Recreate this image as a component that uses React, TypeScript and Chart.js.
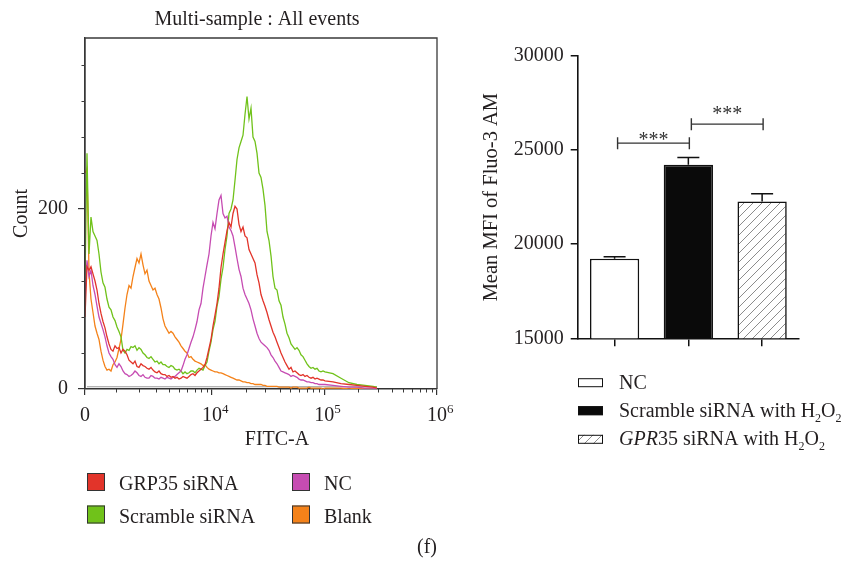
import React, { useEffect, useRef } from 'react';
import { Chart, Scale, registerables } from 'chart.js';

Chart.register(...registerables);

const FONT = "'Liberation Serif', 'Times New Roman', serif";
const INK = '#231f20';

// ---------- Left panel: flow cytometry histogram ----------
const fitcBins = [
  0, 61, 123, 184, 246, 309, 372, 435,
  499, 564, 630, 697, 766, 835, 906, 979, 1053, 1128,
  1206, 1286, 1368, 1452, 1539, 1628, 1720, 1814, 1912, 2013,
  2118, 2225, 2337, 2452, 2572, 2696, 2824, 2958, 3096, 3239,
  3388, 3542, 3702, 3869, 4042, 4221, 4408, 4602, 4804, 5014,
  5232, 5459, 5695, 5941, 6196, 6462, 6739, 7027, 7327, 7639,
  7963, 8301, 8653, 9020, 9401, 9798, 10212, 10642, 11092, 11558,
  12045, 12551, 13079, 13628, 14201, 14796, 15417, 16062, 16735, 17437,
  18167, 18928, 19720, 20550, 21405, 22300, 23232, 24205, 25215, 26272,
  27366, 28513, 29701, 30946, 32235, 33587, 34983, 36450, 37966, 39559,
  41203, 42931, 44715, 46590, 48525, 50563, 52660, 54873, 57150, 59550,
  62019, 64624, 67303, 70134, 73042, 76110, 79267, 82598, 86019, 89642,
  93347, 97277, 101304,
  119298, 140486, 165447, 194832, 229437, 270192, 293210,
];
const grp35Counts = [
  80, 136, 132, 136, 128, 120, 110, 95,
  84, 75, 68, 58, 50, 44, 42, 48, 45, 46,
  40, 44, 42, 38, 32, 30, 28, 31, 25, 24,
  28, 26, 25, 23, 22, 24, 21, 19, 18, 20,
  17, 16, 16, 14, 15, 13, 14, 12, 13, 11,
  12, 14, 13, 12, 14, 16, 17, 15, 18, 20,
  22, 24, 27, 35, 45, 55, 70, 82, 95, 112,
  135, 150, 163, 176, 185, 180, 195, 203, 200, 183,
  175, 180, 170, 168, 155, 150, 145, 140, 127, 118,
  105, 98, 92, 85, 77, 70, 63, 58, 52, 46,
  40, 35, 30, 26, 22, 24, 19, 20, 18, 16,
  15, 16, 14, 15, 13, 12, 13, 11, 12, 11,
  10, 10, 9,
  8, 6, 5, 4, 3, 2, 1,
];
const ncCounts = [
  100, 143, 125, 132, 115, 105, 92, 80,
  73, 66, 58, 48, 40, 36, 33, 27, 24, 28,
  25, 20, 17, 16, 14, 15, 17, 20, 18, 15,
  14, 16, 13, 12, 12, 15, 14, 12, 12, 11,
  13, 12, 11, 13, 12, 11, 13, 14, 16, 18,
  20, 26, 33, 38, 45, 52, 58, 66, 75, 88,
  95, 112, 125, 138, 150, 170, 185, 178, 195, 210,
  215, 195, 190, 192, 180, 176, 170, 158, 145, 133,
  125, 112, 105, 100, 95, 88, 78, 70, 62, 56,
  52, 50, 48, 46, 43, 38, 35, 31, 28, 24,
  20, 19, 18, 17, 16, 14, 15, 14, 13, 11,
  10, 10, 9, 8, 8, 7, 7, 6, 6, 5,
  5, 5, 5,
  4, 3, 2, 2, 1, 1, 0,
];
const scrambleCounts = [
  120, 262, 150, 191, 175, 170, 165, 150,
  130, 118, 113, 100, 91, 88, 80, 76, 69, 64,
  58, 43, 40, 44, 43, 47, 46, 48, 43, 46,
  44, 40, 38, 35, 34, 36, 33, 30, 31, 28,
  30, 27, 27, 25, 24, 26, 25, 22, 21, 22,
  20, 17, 19, 17, 18, 20, 20, 18, 21, 23,
  22, 21, 26, 30, 42, 52, 66, 75, 92, 103,
  122, 135, 155, 170, 195, 200, 210, 232, 255, 268,
  275, 282, 305, 325, 300, 312, 280, 275, 262, 240,
  235, 222, 204, 175, 165, 148, 125, 112, 110, 98,
  93, 80, 72, 62, 57, 50, 47, 44, 46, 43,
  38, 36, 32, 28, 25, 23, 24, 22, 23, 20,
  19, 20, 19,
  17, 12, 7, 5, 4, 3, 2,
];
const blankCounts = [
  240, 245, 130, 100, 85, 70, 62, 55,
  42, 32, 25, 21, 22, 20, 27, 30, 35, 45,
  55, 72, 90, 105, 115, 112, 125, 135, 145, 140,
  150, 138, 128, 132, 120, 115, 110, 112, 105, 100,
  90, 78, 70, 66, 62, 64, 62, 58, 55, 52,
  48, 45, 42, 40, 35, 36, 33, 31, 30, 29,
  28, 26, 27, 24, 22, 21, 20, 19, 19, 18,
  18, 17, 16, 15, 14, 13, 12, 11, 10, 10,
  9, 8, 8, 7, 7, 6, 6, 5, 5, 5,
  5, 4, 4, 3, 3, 3, 3, 3, 3, 2,
  2, 2, 2, 2, 2, 1, 2, 2, 2, 1,
  1, 1, 1, 1, 2, 1, 1, 1, 1, 1,
  1, 0, 1,
  1, 1, 0, 1, 0, 0, 0,
];
const baselineX = [61, 293210];
const baselineY = [2.5, 2.5];

const xMajorTicks = [0, 10000, 100000, 1000000];
const xMinorTicks = [1000, 2000, 3000, 4000, 5000, 6000, 7000, 8000, 9000, 20000, 30000, 40000, 50000, 60000, 70000, 80000, 90000, 200000, 300000, 400000, 500000, 600000, 700000, 800000, 900000];
const yMajorTicks = [0, 200];
const yMinorTicks = [40, 80, 120, 160, 240, 280, 320, 360];

const histSeries = ['GRP35 siRNA', 'NC', 'Scramble siRNA', 'Blank'];
const histColors = ['#e2342a', '#c64cb2', '#70c21a', '#f4821a'];

// ---------- Right panel: bar chart ----------
const barCategories = ['NC', 'Scramble siRNA with H2O2', 'GPR35 siRNA with H2O2'];
const barMeans = [19230, 24220, 22270];
const barErrors = [100, 390, 410];
const yBarTicks = [15000, 20000, 25000, 30000];
const sigPairs = [[0, 1], [1, 2]];
const sigLineY = [25370, 26380];
const sigStarY = [25680, 27090];
const sigLabels = ['***', '***'];

type Seg = { t: string; it?: boolean; sub?: boolean; sup?: boolean };

function segFont(s: Seg, size: number) {
  const sz = s.sub || s.sup ? Math.round(size * 0.62) : size;
  return `${s.it ? 'italic ' : ''}${sz}px ${FONT}`;
}

function drawRich(ctx: CanvasRenderingContext2D, segs: Seg[], x: number, y: number, size: number) {
  let cx = x;
  ctx.textAlign = 'left';
  ctx.textBaseline = 'alphabetic';
  for (const s of segs) {
    ctx.font = segFont(s, size);
    const dy = s.sub ? size * 0.24 : s.sup ? -size * 0.4 : 0;
    ctx.fillText(s.t, cx, y + dy);
    cx += ctx.measureText(s.t).width;
  }
}

const ASINH_C = 1500;
class AsinhScale extends Scale {
  static id = 'asinh';
  static defaults = {};
  determineDataLimits() {
    const o: any = this.options;
    const mm = this.getMinMax(true);
    this.min = o.min ?? (isFinite(mm.min) ? mm.min : 0);
    this.max = o.max ?? (isFinite(mm.max) ? mm.max : 1);
  }
  buildTicks() {
    return [];
  }
  configure() {
    super.configure();
    (this as any)._s0 = Math.asinh(this.min / ASINH_C);
    (this as any)._range = Math.asinh(this.max / ASINH_C) - (this as any)._s0;
  }
  getLabelForValue(v: number) {
    return String(v);
  }
  getPixelForValue(v: number) {
    if (v === undefined || v === null || isNaN(v)) return NaN;
    return this.getPixelForDecimal((Math.asinh(v / ASINH_C) - (this as any)._s0) / (this as any)._range);
  }
  getValueForPixel(p: number) {
    const d = this.getDecimalForPixel(p);
    return ASINH_C * Math.sinh((this as any)._s0 + d * (this as any)._range);
  }
}
Chart.register(AsinhScale as any);

const leftDecor = {
  id: 'leftDecor',
  afterDraw(chart: any) {
    const { ctx, chartArea: a, scales } = chart;
    const xs = scales.x;
    const ys = scales.y;
    ctx.save();
    ctx.strokeStyle = '#3a3a3a';
    ctx.lineWidth = 1.3;
    ctx.beginPath();
    ctx.moveTo(a.left, a.bottom);
    ctx.lineTo(a.left, a.top);
    ctx.lineTo(a.right, a.top);
    ctx.lineTo(a.right, a.bottom);
    ctx.stroke();
    ctx.lineWidth = 1;
    ctx.beginPath();
    yMinorTicks.forEach((v) => {
      const py = Math.round(ys.getPixelForValue(v)) + 0.5;
      ctx.moveTo(a.left - 3.5, py);
      ctx.lineTo(a.left, py);
    });
    xMinorTicks.forEach((v) => {
      const px = Math.round(xs.getPixelForValue(v)) + 0.5;
      ctx.moveTo(px, a.bottom);
      ctx.lineTo(px, a.bottom + 3.5);
    });
    ctx.stroke();

    ctx.fillStyle = INK;
    ctx.textBaseline = 'alphabetic';
    xMajorTicks.forEach((v) => {
      const px = xs.getPixelForValue(v);
      ctx.font = `20px ${FONT}`;
      if (v === 0) {
        ctx.textAlign = 'center';
        ctx.fillText('0', px, 421);
        return;
      }
      const w = ctx.measureText('10').width;
      ctx.textAlign = 'left';
      ctx.fillText('10', px - w / 2, 421);
      ctx.font = `13px ${FONT}`;
      ctx.fillText(String(Math.round(Math.log10(v))), px + w / 2, 413);
    });

    ctx.font = `20px ${FONT}`;
    ctx.textAlign = 'center';
    ctx.fillText('Multi-sample : All events', 257, 25);
    ctx.fillText('FITC-A', 277, 445);
    ctx.fillText('(f)', 427, 553);
    ctx.save();
    ctx.translate(27, (a.top + a.bottom) / 2);
    ctx.rotate(-Math.PI / 2);
    ctx.fillText('Count', 0, 0);
    ctx.restore();

    const colX = [87, 292];
    const rowY = [482, 514.5];
    histSeries.forEach((name, i) => {
      const bx = colX[i % 2];
      const cy = rowY[Math.floor(i / 2)];
      ctx.fillStyle = histColors[i];
      ctx.fillRect(bx, cy - 9, 18, 18);
      ctx.strokeStyle = '#333';
      ctx.lineWidth = 1;
      ctx.strokeRect(bx + 0.5, cy - 8.5, 17, 17);
      ctx.fillStyle = INK;
      ctx.font = `20px ${FONT}`;
      ctx.textAlign = 'left';
      ctx.fillText(name, bx + 32, cy + 8);
    });
    ctx.restore();
  },
};

function rightDecorFactory(hatch: any) {
  return {
    id: 'rightDecor',
    afterDraw(chart: any) {
      const { ctx, scales } = chart;
      const xs = scales.x;
      const ys = scales.y;
      ctx.save();
      ctx.strokeStyle = '#111';
      ctx.lineWidth = 1.5;
      barMeans.forEach((m, i) => {
        const px = xs.getPixelForValue(i);
        const p0 = ys.getPixelForValue(m);
        const p1 = ys.getPixelForValue(m + barErrors[i]);
        ctx.beginPath();
        ctx.moveTo(px, p0);
        ctx.lineTo(px, p1);
        ctx.moveTo(px - 11, p1);
        ctx.lineTo(px + 11, p1);
        ctx.stroke();
      });
      sigPairs.forEach(([a, b], k) => {
        const xa = xs.getPixelForValue(a) + 3;
        const xb = xs.getPixelForValue(b) + 1;
        const py = ys.getPixelForValue(sigLineY[k]);
        ctx.strokeStyle = '#333';
        ctx.lineWidth = 1.4;
        ctx.beginPath();
        ctx.moveTo(xa, py - 6);
        ctx.lineTo(xa, py + 6);
        ctx.moveTo(xa, py);
        ctx.lineTo(xb, py);
        ctx.moveTo(xb, py - 6);
        ctx.lineTo(xb, py + 6);
        ctx.stroke();
        ctx.fillStyle = '#333';
        ctx.font = `20px ${FONT}`;
        ctx.textAlign = 'center';
        ctx.textBaseline = 'alphabetic';
        ctx.fillText(sigLabels[k], (xa + xb) / 2, ys.getPixelForValue(sigStarY[k]) + 0.45 * 20);
      });

      ctx.fillStyle = INK;
      ctx.font = `20.5px ${FONT}`;
      ctx.textAlign = 'center';
      ctx.textBaseline = 'alphabetic';
      ctx.save();
      ctx.translate(27, (chart.chartArea.top + chart.chartArea.bottom) / 2);
      ctx.rotate(-Math.PI / 2);
      ctx.fillText('Mean MFI of Fluo-3 AM', 0, 0);
      ctx.restore();

      const legendRows: Seg[][] = [
        [{ t: 'NC' }],
        [{ t: 'Scramble siRNA with H' }, { t: '2', sub: true }, { t: 'O' }, { t: '2', sub: true }],
        [{ t: 'GPR', it: true }, { t: '35 siRNA with H' }, { t: '2', sub: true }, { t: 'O' }, { t: '2', sub: true }],
      ];
      const fills = ['#ffffff', '#0a0a0a', hatch];
      const rowsY = [382.7, 410.7, 439.3];
      legendRows.forEach((segs, i) => {
        const cy = rowsY[i];
        ctx.fillStyle = fills[i];
        ctx.fillRect(108, cy - 4.5, 25, 9);
        ctx.strokeStyle = '#111';
        ctx.lineWidth = 1;
        ctx.strokeRect(108.5, cy - 4, 24, 8);
        ctx.fillStyle = INK;
        drawRich(ctx, segs, 149, cy + 6, 20);
      });
      ctx.restore();
    },
  };
}

function makeHatch(ctx: CanvasRenderingContext2D) {
  const c = document.createElement('canvas');
  c.width = 9;
  c.height = 9;
  const g = c.getContext('2d')!;
  g.fillStyle = '#ffffff';
  g.fillRect(0, 0, 9, 9);
  g.strokeStyle = '#8c8c8c';
  g.lineWidth = 1;
  g.beginPath();
  g.moveTo(-1, 10);
  g.lineTo(10, -1);
  g.moveTo(-5.5, 5.5);
  g.lineTo(5.5, -5.5);
  g.moveTo(3.5, 14.5);
  g.lineTo(14.5, 3.5);
  g.stroke();
  return ctx.createPattern(c, 'repeat');
}

export default function App() {
  const leftRef = useRef<HTMLCanvasElement>(null);
  const rightRef = useRef<HTMLCanvasElement>(null);

  useEffect(() => {
    const seriesData = [grp35Counts, ncCounts, scrambleCounts, blankCounts];
    const datasets: any[] = seriesData.map((arr, i) => ({
      label: histSeries[i],
      data: fitcBins.map((x, j) => ({ x, y: arr[j] })),
      borderColor: histColors[i],
      borderWidth: 1.3,
      pointRadius: 0,
      tension: 0,
      fill: false,
    }));
    datasets.push({
      label: 'baseline',
      data: baselineX.map((x, j) => ({ x, y: baselineY[j] })),
      borderColor: '#9a9a9a',
      borderWidth: 1,
      pointRadius: 0,
      fill: false,
    });

    const left = new Chart(leftRef.current!, {
      type: 'line',
      data: { datasets },
      options: {
        animation: false,
        responsive: false,
        events: [],
        layout: { padding: { top: 38, right: 33, left: 0, bottom: 0 } },
        plugins: { legend: { display: false }, tooltip: { enabled: false } },
        scales: {
          x: {
            type: 'asinh' as any,
            min: 0,
            max: 1000000,
            position: 'bottom',
            afterFit: (s: any) => { s.height = 174; },
            afterBuildTicks: (s: any) => { s.ticks = xMajorTicks.map((v) => ({ value: v })); },
            ticks: { display: false },
            grid: { drawOnChartArea: false, drawTicks: true, tickLength: 6, color: '#333', lineWidth: 1.2 },
            border: { display: true, color: '#333', width: 1.5 },
          } as any,
          y: {
            type: 'linear',
            min: 0,
            max: 390,
            afterFit: (s: any) => { s.width = 85; },
            afterBuildTicks: (s: any) => { s.ticks = yMajorTicks.map((v) => ({ value: v })); },
            ticks: { font: { family: FONT, size: 20 }, color: INK, padding: 10, callback: (v: any) => String(v) },
            grid: { drawOnChartArea: false, tickLength: 7, color: '#333', lineWidth: 1.2 },
            border: { display: true, color: '#333', width: 1.3 },
          },
        },
      },
      plugins: [leftDecor],
    });

    const hatch = makeHatch(rightRef.current!.getContext('2d')!);
    const right = new Chart(rightRef.current!, {
      type: 'bar',
      data: {
        labels: barCategories,
        datasets: [
          {
            data: barMeans,
            backgroundColor: ['#ffffff', '#0a0a0a', hatch as any],
            borderColor: '#111',
            borderWidth: 1.6,
            barPercentage: 0.668,
            categoryPercentage: 1,
          },
        ],
      },
      options: {
        animation: false,
        responsive: false,
        events: [],
        layout: { padding: { top: 56, right: 56, left: 0, bottom: 0 } },
        plugins: { legend: { display: false }, tooltip: { enabled: false } },
        scales: {
          x: {
            afterFit: (s: any) => { s.height = 470 - 338.3; },
            ticks: { display: false },
            grid: { offset: false, drawOnChartArea: false, tickLength: 8, color: '#111', lineWidth: 1.5 },
            border: { display: true, color: '#111', width: 1.6 },
          },
          y: {
            min: 15000,
            max: 30000,
            afterFit: (s: any) => { s.width = 107.7; },
            afterBuildTicks: (s: any) => { s.ticks = yBarTicks.map((v) => ({ value: v })); },
            ticks: { font: { family: FONT, size: 20 }, color: INK, padding: 7, callback: (v: any) => String(v) },
            grid: { drawOnChartArea: false, tickLength: 7, color: '#111', lineWidth: 1.5 },
            border: { display: true, color: '#111', width: 1.6 },
          },
        },
      },
      plugins: [rightDecorFactory(hatch)],
    });

    return () => {
      left.destroy();
      right.destroy();
    };
  }, []);

  return (
    <div style={{ position: 'absolute', left: 0, top: 0, width: 855, height: 563, background: '#ffffff' }}>
      <canvas ref={leftRef} width={470} height={563} style={{ position: 'absolute', left: 0, top: 0, width: 470, height: 563 }} />
      <canvas ref={rightRef} width={385} height={470} style={{ position: 'absolute', left: 470, top: 0, width: 385, height: 470 }} />
    </div>
  );
}
